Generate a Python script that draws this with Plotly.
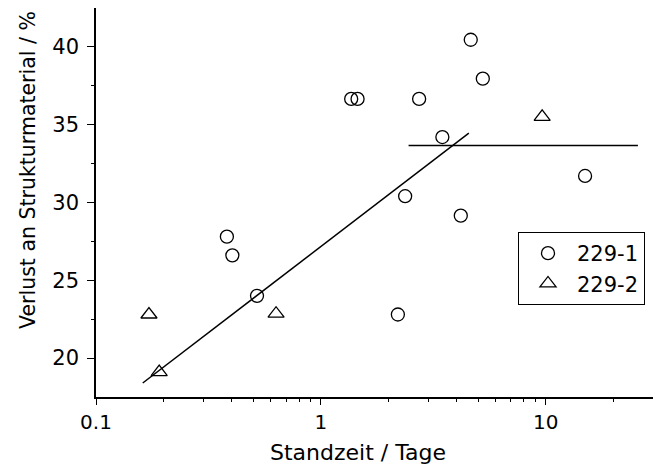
import plotly.graph_objects as go

# 229-1 (circles)
x_229_1 = [0.382, 0.404, 0.52, 1.364, 1.456, 2.2, 2.37, 2.735, 3.47, 4.19, 4.64, 5.25, 14.96]
y_229_1 = [27.8, 26.6, 24.0, 36.65, 36.65, 22.8, 30.4, 36.65, 34.2, 29.15, 40.45, 37.95, 31.7]

# 229-2 (triangles)
x_229_2 = [0.172, 0.191, 0.632, 9.64]
y_229_2 = [22.8, 19.1, 22.85, 35.5]

# fitted lines
fit_x = [0.1614, 4.55]
fit_y = [18.4, 34.45]
plateau_x = [2.455, 25.7]
plateau_y = [33.65, 33.65]

x_ticks = [0.1, 1, 10]
x_ticktext = ["0.1", "1", "10"]
y_ticks = [20, 25, 30, 35, 40]
y_minor = [22.5, 27.5, 32.5, 37.5]

FONT = "DejaVu Sans, Arial, sans-serif"

# the page body adds an 8px offset, so the figure is drawn 8px smaller
W, H = 653, 462
L, R, T, B = 88, 8, 0, 73
PW, PH = W - L - R, H - T - B

fig = go.Figure()
fig.add_trace(go.Scatter(x=fit_x, y=fit_y, mode="lines", line=dict(color="black", width=1.5),
                         showlegend=False, hoverinfo="skip"))
fig.add_trace(go.Scatter(x=plateau_x, y=plateau_y, mode="lines", line=dict(color="black", width=1.5),
                         showlegend=False, hoverinfo="skip"))
fig.add_trace(go.Scatter(x=x_229_1, y=y_229_1, mode="markers", name="229-1",
                         marker=dict(symbol="circle-open", size=13, color="black", line=dict(width=1.3))))
fig.add_trace(go.Scatter(x=x_229_2, y=y_229_2, mode="markers", name="229-2",
                         marker=dict(symbol="triangle-up-open", size=14, color="black", line=dict(width=1.3))))

fig.update_xaxes(type="log", range=[-1, 1.477], showline=True, linecolor="black", linewidth=1.5,
                 ticks="outside", ticklen=6, tickwidth=1.2, tickcolor="black",
                 tickvals=x_ticks, ticktext=x_ticktext, showgrid=False, zeroline=False, automargin=False,
                 minor=dict(ticks="outside", ticklen=3, tickcolor="black",
                            tickvals=[v * d for d in (0.1, 1, 10) for v in range(2, 10) if v * d <= 30],
                            showgrid=False),
                 tickfont=dict(size=20, family=FONT, color="black"))
fig.update_yaxes(range=[17.5, 42.49], showline=True, linecolor="black", linewidth=1.5,
                 ticks="outside", ticklen=7, tickwidth=1.2, tickcolor="black", ticklabelstandoff=4,
                 tickvals=y_ticks, showgrid=False, zeroline=False, automargin=False,
                 minor=dict(ticks="outside", ticklen=3, tickcolor="black", tickvals=y_minor, showgrid=False),
                 tickfont=dict(size=21, family=FONT, color="black"))

fig.add_annotation(text="Standzeit / Tage", xref="paper", yref="paper", x=(350 - L) / PW, y=-55 / PH,
                   xanchor="center", yanchor="middle", showarrow=False,
                   font=dict(size=22, family=FONT, color="black"))
fig.add_annotation(text="Verlust an Strukturmaterial / %", xref="paper", yref="paper",
                   x=(20 - L) / PW, y=(389 - 162) / PH, textangle=-90,
                   xanchor="center", yanchor="middle", showarrow=False,
                   font=dict(size=20.5, family=FONT, color="black"))

fig.update_layout(width=W, height=H, margin=dict(l=L, r=R, t=T, b=B),
                  plot_bgcolor="white", paper_bgcolor="white",
                  legend=dict(x=(510 - L) / PW, y=(389 - 224) / PH, xanchor="left", yanchor="top",
                              bordercolor="black", borderwidth=1, itemwidth=48,
                              bgcolor="white", font=dict(size=21, family=FONT, color="black")))
fig.write_html("out.html")
